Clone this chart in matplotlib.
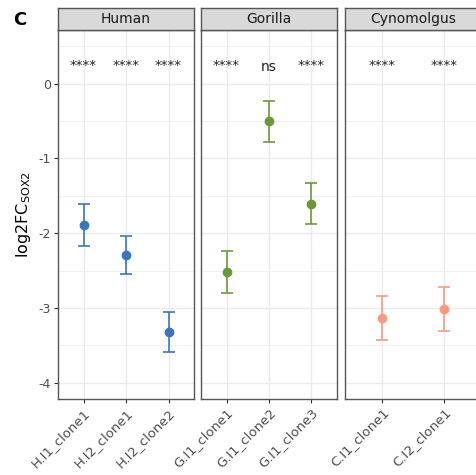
import matplotlib
matplotlib.use("Agg")
import matplotlib.pyplot as plt
import numpy as np

# --- data ---
species = ["Human", "Gorilla", "Cynomolgus"]
clones = [["H.I1_clone1", "H.I2_clone1", "H.I2_clone2"],
          ["G.I1_clone1", "G.I1_clone2", "G.I1_clone3"],
          ["C.I1_clone1", "C.I2_clone1"]]
means = [[-1.89, -2.29, -3.32],
         [-2.52, -0.50, -1.61],
         [-3.14, -3.02]]
upper = [[-1.61, -2.04, -3.06],
         [-2.24, -0.23, -1.33],
         [-2.84, -2.72]]
lower = [[-2.17, -2.55, -3.59],
         [-2.80, -0.78, -1.88],
         [-3.43, -3.31]]
signif = [["****", "****", "****"],
          ["****", "ns", "****"],
          ["****", "****"]]
colors = ["#3A76BD", "#6A9A38", "#F99A80"]

W, H = 476, 475
fig = plt.figure(figsize=(W / 100, H / 100), dpi=100)

panel_left = [58, 201, 345]
panel_w = 136
panel_top, panel_bot = 30, 399
strip_top = 8

ymin, ymax = -4.22, 0.72

for i, sp in enumerate(species):
    x0 = panel_left[i] / W
    ax = fig.add_axes([x0, (H - panel_bot) / H, panel_w / W, (panel_bot - panel_top) / H])
    n = len(clones[i])
    xs = np.arange(1, n + 1)
    m = np.array(means[i])
    err = np.vstack([m - np.array(lower[i]), np.array(upper[i]) - m])
    ax.errorbar(xs, m, yerr=err, fmt="o", color=colors[i], ms=6, elinewidth=1.2,
                capsize=4.5, capthick=1.2, zorder=3)
    for x, s in zip(xs, signif[i]):
        if s == "ns":
            ax.text(x, 0.23, s, ha="center", va="center", fontsize=10, color="#222222")
        else:
            ax.text(x, 0.25, s, ha="center", va="center", fontsize=9.5, color="#222222")

    ax.set_xticks(xs)
    ax.set_xticklabels(clones[i], rotation=45, ha="right", rotation_mode="anchor",
                       fontsize=9.5, color="#4D4D4D")
    ax.set_yticks([0, -1, -2, -3, -4])
    ax.set_yticks(np.arange(-3.5, 1.0, 1.0), minor=True)
    ax.set_xlim(0.4, n + 0.6)
    ax.set_ylim(ymin, ymax)
    ax.grid(True, which="major", color="#EBEBEB", lw=1.0)
    ax.grid(True, which="minor", axis="y", color="#F0F0F0", lw=0.7)
    ax.set_axisbelow(True)
    ax.tick_params(axis="both", which="major", length=3, width=0.8, color="#333333", pad=2)
    ax.tick_params(axis="y", which="minor", length=0)
    if i == 0:
        ax.set_yticklabels(["0", "-1", "-2", "-3", "-4"], fontsize=9, color="#4D4D4D")
        ax.set_ylabel(r"log2FC$_{\mathregular{SOX2}}$", fontsize=11.5, labelpad=4)
    else:
        ax.tick_params(axis="y", which="major", left=False, labelleft=False)
    for sp_ in ax.spines.values():
        sp_.set_color("#555555")
        sp_.set_linewidth(1.0)

    sax = fig.add_axes([x0, (H - panel_top) / H, panel_w / W, (panel_top - strip_top) / H])
    sax.set_facecolor("#D9D9D9")
    sax.set_xticks([])
    sax.set_yticks([])
    for sp_ in sax.spines.values():
        sp_.set_color("#555555")
        sp_.set_linewidth(1.0)
    sax.text(0.5, 0.5, sp, ha="center", va="center", fontsize=10, color="#1A1A1A",
             transform=sax.transAxes)

fig.text(13 / W, 1 - 20 / H, "C", fontsize=13, fontweight="bold", ha="left", va="center")

fig.savefig("out.png", dpi=100)
